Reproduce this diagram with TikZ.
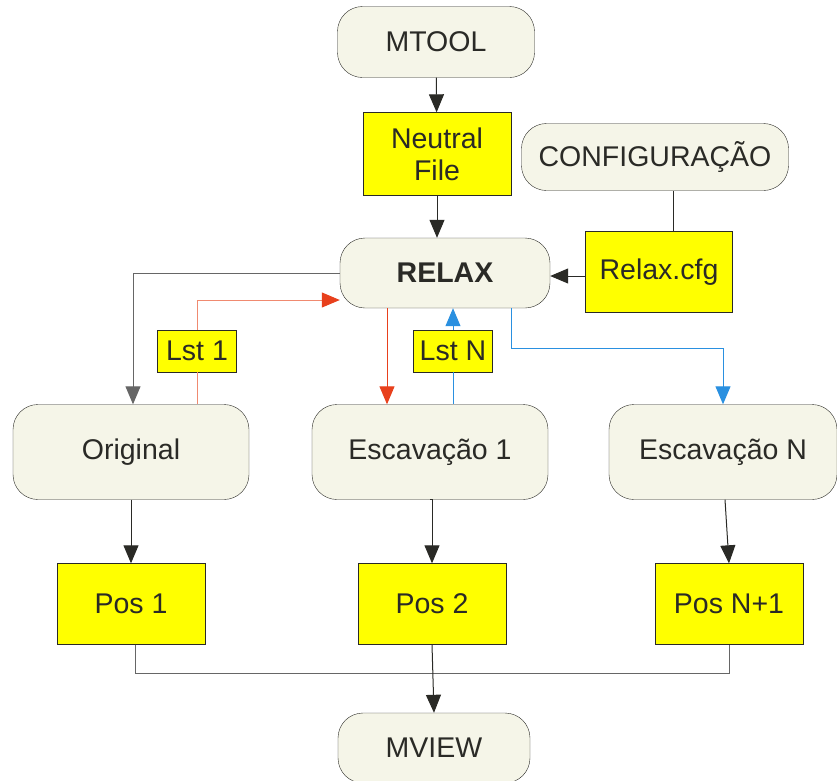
\documentclass[tikz,border=0pt]{standalone}
\usepackage{fontspec}
\setmainfont{Liberation Sans}
\usetikzlibrary{arrows.meta}

\definecolor{boxcream}{HTML}{F5F5E8}
\definecolor{fileyellow}{HTML}{FFFF00}
\definecolor{linedark}{HTML}{2A2A26}
\definecolor{linegray}{HTML}{666666}
\definecolor{relred}{HTML}{E8401C}
\definecolor{relsalmon}{HTML}{F08A70}
\definecolor{relblue}{HTML}{2A90E0}

\tikzset{
  proc/.style={draw=linedark, fill=boxcream, rounded corners=25pt, inner sep=0pt,
    text=linedark, font=\fontsize{28.5}{32}\selectfont},
  filebox/.style={draw=linedark, fill=fileyellow, inner sep=0pt,
    text=linedark, font=\fontsize{28.5}{32}\selectfont, align=center},
  tip/.style={-{Triangle[length=18pt,width=15pt]}},
  flow/.style={draw=linedark, line width=1pt, tip},
}

\begin{document}
\begin{tikzpicture}[x=1pt,y=-1pt]
\useasboundingbox (0,0) rectangle (837,780);
				% top of the chain
				\node[proc, minimum width=197, minimum height=71] (mtool) at (436,42) {MTOOL};
				\node[filebox, minimum width=148, minimum height=83] (neutral) at (437,154) {Neutral\\File};
				\node[proc, minimum width=267, minimum height=67] (config) at (655,157) {CONFIGURAÇÃO};
				\node[proc, minimum width=210, minimum height=70, font=\fontsize{28.5}{32}\selectfont\bfseries] (relax) at (445,273) {RELAX};
				\node[filebox, minimum width=147, minimum height=81] (relaxcfg) at (659,272) {Relax.cfg};
				% listings
				\node[filebox, minimum width=79, minimum height=42] (lst1) at (197,351) {Lst 1};
				\node[filebox, minimum width=79, minimum height=42] (lstN) at (453,351) {Lst N};
				% stages
				\node[proc, minimum width=236, minimum height=95] (orig) at (131,452) {Original};
				\node[proc, minimum width=236, minimum height=95] (esc1) at (430,452) {Escavação 1};
				\node[proc, minimum width=228, minimum height=95] (escN) at (723,452) {Escavação N};
				\node[filebox, minimum width=148, minimum height=81] (pos1) at (131,604) {Pos 1};
				\node[filebox, minimum width=148, minimum height=81] (pos2) at (432,604) {Pos 2};
				\node[filebox, minimum width=148, minimum height=81] (posN) at (729,604) {Pos N+1};
				\node[proc, minimum width=192, minimum height=70] (mview) at (434,748) {MVIEW};

				\draw[flow] (mtool) -- (neutral);
				\draw[flow] (neutral.south) -- (neutral.south |- relax.north);
				\draw[draw=linedark, line width=1pt] ([xshift=14pt]relaxcfg.north) -- ([xshift=14pt]relaxcfg.north |- config.south);
				\draw[flow] ([yshift=-4pt]relaxcfg.west) -- ([yshift=-4pt]relaxcfg.west -| relax.east);
				\draw[flow, draw=linegray] (relax.west) -| ([xshift=2pt]orig.north);
				% red path
				\draw[relsalmon, line width=1pt] (lst1.south) -- (lst1.south |- orig.north);
				\draw[relsalmon, line width=1pt, -{Triangle[length=18pt,width=15pt,fill=relred,color=relred]}] (lst1.north) |- ([yshift=-27pt]relax.west);
				\draw[relred, line width=1pt, tip] ([xshift=-58pt]relax.south) -- ([xshift=-58pt]relax.south |- esc1.north);
				% blue path
				\draw[relblue, line width=1pt] (lstN.south) -- (lstN.south |- esc1.north);
				\draw[relblue, line width=1pt, tip] (lstN.north) -- (lstN.north |- relax.south);
				\draw[relblue, line width=1pt, tip] ([xshift=66pt]relax.south) |- ++(0,40) -| (escN.north);
				% results
				\draw[flow] (orig) -- (pos1);
				\draw[flow] (esc1.south) -- (esc1.south -| pos2.north) -- (pos2.north);
				\draw[flow] ([xshift=2pt]escN.south) -- (posN.north);
				\draw[draw=linegray, line width=1pt] ([xshift=4pt]pos1.south) -- ++(0,29) -| (posN.south);
				\draw[flow] (pos2.south) -- (mview.north);
\end{tikzpicture}
\end{document}
